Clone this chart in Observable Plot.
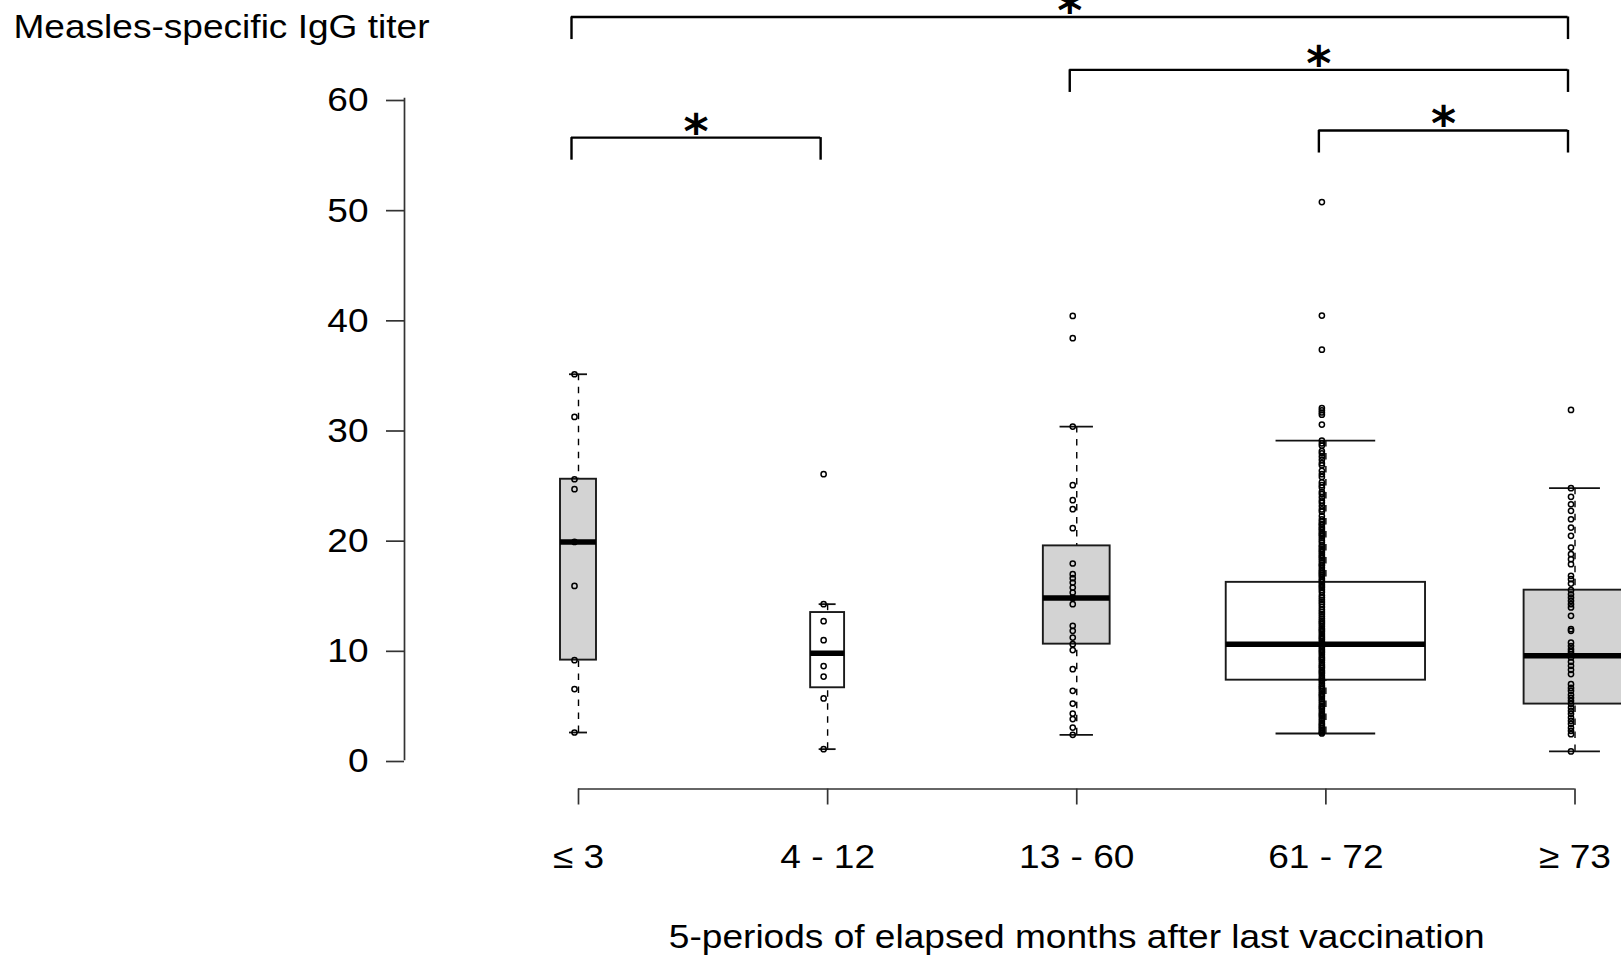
<!DOCTYPE html>
<html><head><meta charset="utf-8">
<script src="https://cdn.jsdelivr.net/npm/d3@7"></script>
<script src="https://cdn.jsdelivr.net/npm/@observablehq/plot@0.6"></script>
<style>
html,body{margin:0;padding:0;background:#fff;overflow:hidden;}
#chart svg{display:block;}
</style>
</head><body><div id="chart"></div>
<script>
// ---------- data ----------
const groups = ["≤ 3", "4 - 12", "13 - 60", "61 - 72", "≥ 73"];
const groupSizes = [9, 8, 31, 276, 72];
const whiskerLow  = [2.45, 0.94, 2.24, 2.36, 0.73];
const lowerHinge  = [9.02, 6.51, 10.47, 7.2, 5.03];
const medians     = [19.75, 9.65, 14.65, 10.47, 9.41];
const upperHinge  = [25.44, 13.34, 19.39, 16.08, 15.37];
const whiskerHigh = [34.97, 14.1, 30.22, 28.95, 24.63];

const points1 = [2.45, 6.39, 9.02, 15.76, 19.75, 24.54, 25.44, 31.1, 34.97];
const points2 = [0.94, 5.54, 7.53, 8.48, 10.83, 12.56, 14.1, 25.9];
const points3 = [2.24, 2.9, 3.67, 4.17, 5.08, 6.23, 8.2, 9.93, 10.47, 11.07, 11.68, 12.13,
  14.1, 14.65, 14.7, 15.15, 15.61, 16.06, 16.46, 16.82, 17.79, 21.0, 22.72, 23.54, 24.9,
  30.22, 38.24, 40.26];
const points4 = [50.6, 40.3, 37.2, 31.9, 31.7, 31.5, 31.3, 30.4, 28.95, 28.7, 28.5, 28.0, 27.8,
  27.5, 27.2, 26.9, 26.7, 26.2, 25.9, 25.65, 25.15, 24.9, 24.7, 24.3, 24.1, 23.8, 23.5, 23.3,
  23.0, 22.7, 22.5, 22.1, 21.8, 21.6, 21.4, 21.3, 21.1, 20.95, 20.8, 20.6, 20.45, 20.3, 20.1,
  19.9, 19.7, 19.45, 19.3, 19.1, 18.95, 18.8, 18.6, 18.45, 18.3, 18.1, 17.9, 17.7, 17.6, 17.4,
  17.2, 17.05, 16.9, 16.75, 16.6, 16.4, 16.25, 16.1, 15.9, 15.75, 15.6, 15.4, 15.2, 14.9, 14.7,
  14.5, 14.3, 14.1, 13.85, 13.6, 13.4, 13.2, 13.0, 12.8, 12.6, 12.45, 12.3, 12.1, 11.9, 11.75,
  11.6, 11.4, 11.2, 11.05, 10.9, 10.7, 10.5, 10.35, 10.2, 10.0, 9.85, 9.7, 9.5, 9.3, 9.15, 9.0,
  8.8, 8.6, 8.45, 8.3, 8.1, 7.95, 7.8, 7.6, 7.4, 7.25, 7.1, 6.9, 6.7, 6.55, 6.4, 6.2, 6.0, 5.85,
  5.7, 5.5, 5.3, 5.1, 4.9, 4.75, 4.6, 4.4, 4.2, 4.05, 3.9, 3.7, 3.5, 3.3, 3.15, 3.0, 2.85, 2.7,
  2.55, 2.45, 2.36];
const points5 = [0.73, 2.3, 2.6, 2.88, 3.24, 3.51, 3.81, 4.15, 4.42, 4.72, 5.05, 5.33, 5.6, 5.87,
  6.23, 6.5, 6.84, 7.75, 8.14, 8.5, 8.87, 9.26, 9.56, 9.77, 10.0, 10.3, 10.6, 11.68, 11.83, 13.04,
  13.8, 14.1, 14.4, 14.7, 15.0, 15.37, 15.97, 16.37, 16.67, 17.73, 18.18, 18.64, 19.24, 20.3,
  21.05, 21.81, 22.57, 23.17, 23.84, 24.63, 31.73];
const groupPoints = [points1, points2, points3, points4, points5];

const yTicks = [0, 10, 20, 30, 40, 50, 60];
// significance comparisons (group numbers) and bracket level on the titer scale
const comparisons = [
  {from: 1, to: 5, level: 67.4, label: "*"},
  {from: 3, to: 5, level: 62.6, label: "*"},
  {from: 1, to: 2, level: 56.45, label: "*"},
  {from: 4, to: 5, level: 57.1, label: "*"}
];
const yTitle = "Measles-specific IgG titer";
const xTitle = "5-periods of elapsed months after last vaccination";

// ---------- styles ----------
const FONT = "'Liberation Sans', Arial, Helvetica, sans-serif";
const boxFills = ["#d3d3d3", "#ffffff", "#d3d3d3", "#ffffff", "#d3d3d3"];
const FS = 34;
const STRETCH = 1.09;
const bracketDrop = 2.05;

// ---------- derived tables ----------
const nMax = d3.max(groupSizes);
const stats = groups.map((g, k) => ({
  g, i: k + 1, n: groupSizes[k],
  lo: whiskerLow[k], q1: lowerHinge[k], med: medians[k], q3: upperHinge[k], hi: whiskerHigh[k],
  w: 0.8 * Math.sqrt(groupSizes[k] / nMax), fill: boxFills[k]
}));
const pts = groupPoints.flatMap((arr, k) => arr.map(v => ({i: k + 1, v})));
const groupIdx = groups.map((g, k) => k + 1);
const xMid = (1 + groups.length) / 2;

const chart = Plot.plot({
  width: 1621, height: 964,
  marginLeft: 404, marginRight: 0, marginTop: 98, marginBottom: 205,
  style: {fontFamily: FONT, background: "white", overflow: "visible", color: "#000"},
  x: {type: "linear", domain: [1, groups.length], range: [578, 1574.5]},
  y: {domain: [0, 60]},
  marks: [
    Plot.frame({anchor: "left", stroke: "#333", strokeWidth: 1.7}),
    Plot.axisY({ticks: yTicks, tickSize: 18, tickPadding: 18, fontSize: FS, label: null,
      stroke: "#333", strokeWidth: 1.7, fill: "#000", dy: 2}),
    Plot.axisX({ticks: groupIdx, tickFormat: i => groups[i - 1], tickSize: 16, tickPadding: 38.7,
      dy: 29.5, fontSize: FS, label: null, stroke: "#333", strokeWidth: 1.7, fill: "#000"}),
    Plot.ruleY([0], {x1: 1, x2: groups.length, dy: 29.5, stroke: "#333", strokeWidth: 1.7}),
    // whiskers
    Plot.ruleX(stats, {x: "i", y1: "hi", y2: "q3", stroke: "#000", strokeWidth: 1.4, strokeDasharray: "6.5,6.5"}),
    Plot.ruleX(stats, {x: "i", y1: "lo", y2: "q1", stroke: "#000", strokeWidth: 1.4, strokeDasharray: "6.5,6.5"}),
    Plot.ruleY(stats, {y: "hi", x1: d => d.i - d.w / 4, x2: d => d.i + d.w / 4, stroke: "#111", strokeWidth: 1.8}),
    Plot.ruleY(stats, {y: "lo", x1: d => d.i - d.w / 4, x2: d => d.i + d.w / 4, stroke: "#111", strokeWidth: 1.8}),
    // boxes
    Plot.rect(stats, {x1: d => d.i - d.w / 2, x2: d => d.i + d.w / 2, y1: "q1", y2: "q3",
      fill: "fill", stroke: "#1a1a1a", strokeWidth: 1.9}),
    // points
    Plot.dot(pts, {x: "i", y: "v", r: 2.6, stroke: "#000", strokeWidth: 1.5, fill: "none", dx: -4}),
    // medians
    Plot.ruleY(stats, {y: "med", x1: d => d.i - d.w / 2, x2: d => d.i + d.w / 2, stroke: "#000", strokeWidth: 5.5}),
    // significance brackets
    Plot.ruleY(comparisons, {y: "level", x1: "from", x2: "to", dx: -7, stroke: "#000", strokeWidth: 2.4}),
    Plot.ruleX(comparisons, {x: "from", y1: d => d.level - bracketDrop, y2: "level", dx: -7, stroke: "#000", strokeWidth: 2.4}),
    Plot.ruleX(comparisons, {x: "to", y1: d => d.level - bracketDrop, y2: "level", dx: -7, stroke: "#000", strokeWidth: 2.4}),
    Plot.text(comparisons, {x: d => (d.from + d.to) / 2, y: "level", text: "label", dx: -7, dy: 10,
      lineAnchor: "bottom", fontSize: 48, fontWeight: "bold", fontFamily: "DejaVu Sans", fill: "#000"}),
    // titles
    Plot.text([yTitle], {frameAnchor: "top-left", dx: -391, dy: -60.5, lineAnchor: "bottom",
      textAnchor: "start", fontSize: FS, fill: "#000"}),
    Plot.text([xTitle], {x: xMid, y: 0, dy: 188, lineAnchor: "bottom", textAnchor: "middle",
      fontSize: FS, fill: "#000"})
  ]
});
document.getElementById("chart").append(chart);
chart.querySelectorAll("text").forEach(t => {
  if (t.textContent.trim() === "*") return;
  const w = t.getComputedTextLength();
  t.setAttribute("textLength", (w * STRETCH).toFixed(1));
  t.setAttribute("lengthAdjust", "spacingAndGlyphs");
});
</script>
</body></html>
